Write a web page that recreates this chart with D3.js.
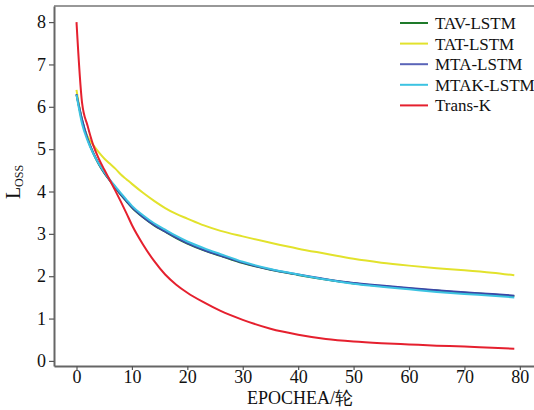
<!DOCTYPE html>
<html>
<head>
<meta charset="utf-8">
<script src="https://cdn.jsdelivr.net/npm/d3@7"></script>
<style>
  body { margin: 0; background: #fff; }
  svg { display: block; }
  svg text { font-family: "Liberation Serif", "Times New Roman", serif; }
</style>
</head>
<body>
<div id="chart"></div>
<script>
// epochs sampled along the curves
const epochs = [0, 1, 2, 3, 4, 5, 6, 7, 8, 9, 10, 12, 14, 16, 18, 20, 23, 26, 30, 35, 40, 45, 50, 55, 60, 65, 70, 75, 79];

const tavLstm  = [6.29, 5.69, 5.24, 4.91, 4.65, 4.44, 4.26, 4.09, 3.92, 3.77, 3.62, 3.39, 3.20, 3.05, 2.90, 2.77, 2.61, 2.48, 2.31, 2.15, 2.03, 1.92, 1.83, 1.77, 1.71, 1.66, 1.61, 1.57, 1.53];
const tatLstm  = [6.40, 5.65, 5.30, 5.10, 4.93, 4.78, 4.66, 4.54, 4.40, 4.29, 4.18, 3.97, 3.78, 3.61, 3.47, 3.36, 3.20, 3.07, 2.94, 2.79, 2.65, 2.53, 2.41, 2.32, 2.25, 2.19, 2.14, 2.08, 2.02];
const mtaLstm  = [6.30, 5.70, 5.25, 4.92, 4.66, 4.45, 4.27, 4.10, 3.93, 3.78, 3.63, 3.40, 3.21, 3.06, 2.91, 2.78, 2.62, 2.49, 2.32, 2.16, 2.04, 1.93, 1.84, 1.78, 1.72, 1.67, 1.62, 1.58, 1.54];
const mtakLstm = [6.28, 5.60, 5.20, 4.90, 4.66, 4.46, 4.28, 4.12, 3.96, 3.81, 3.66, 3.44, 3.25, 3.10, 2.95, 2.82, 2.66, 2.52, 2.34, 2.17, 2.04, 1.92, 1.82, 1.75, 1.69, 1.63, 1.58, 1.54, 1.50];
const transK   = [8.00, 6.10, 5.55, 5.10, 4.78, 4.52, 4.27, 4.02, 3.76, 3.49, 3.21, 2.75, 2.36, 2.04, 1.80, 1.61, 1.38, 1.18, 0.97, 0.76, 0.62, 0.52, 0.46, 0.42, 0.39, 0.36, 0.34, 0.31, 0.29];

const seriesNames = ["TAV-LSTM", "TAT-LSTM", "MTA-LSTM", "MTAK-LSTM", "Trans-K"];
const seriesColors = ["#1e7a2a", "#e2e22c", "#3b46a8", "#3cc3e2", "#e5202e"];
const seriesValues = [tavLstm, tatLstm, mtaLstm, mtakLstm, transK];

const xTicks = [0, 10, 20, 30, 40, 50, 60, 70, 80];
const yTicks = [0, 1, 2, 3, 4, 5, 6, 7, 8];

const width = 534, height = 410;
const plot = {left: 54, top: 6, right: 542, bottom: 366};

const svg = d3.select("#chart").append("svg")
    .attr("width", width)
    .attr("height", height);

const x = d3.scaleLinear().domain([-4.06, 84.0]).range([plot.left, plot.right]);
const y = d3.scaleLinear().domain([-0.12, 8.38]).range([plot.bottom, plot.top]);

// top border
svg.append("line")
    .attr("x1", plot.left).attr("x2", plot.right)
    .attr("y1", plot.top).attr("y2", plot.top)
    .attr("stroke", "#333").attr("stroke-width", 1.2);

const xAxis = svg.append("g")
    .attr("transform", `translate(0,${plot.bottom})`)
    .call(d3.axisBottom(x).tickValues(xTicks).tickSize(4).tickSizeOuter(0));

const yAxis = svg.append("g")
    .attr("transform", `translate(${plot.left},0)`)
    .call(d3.axisLeft(y).tickValues(yTicks).tickSize(5).tickSizeOuter(0));

[xAxis, yAxis].forEach(a => {
  a.attr("font-family", null).attr("font-size", null);
  a.select(".domain").attr("stroke", "#666").attr("stroke-width", 2);
  a.selectAll(".tick line").attr("stroke", "#555").attr("stroke-width", 1.2);
  a.selectAll(".tick text")
    .style("font-size", "18px")
    .attr("fill", "#111");
});
xAxis.selectAll(".tick text").attr("dy", "0.62em").attr("y", 6);
yAxis.selectAll(".tick text").attr("x", -8);

// curves
const line = d3.line()
    .x((d, i) => x(epochs[i]))
    .y(d => y(d))
    .curve(d3.curveMonotoneX);

svg.append("g")
    .attr("fill", "none")
    .attr("stroke-width", 2)
  .selectAll("path")
  .data(seriesValues)
  .join("path")
    .attr("stroke", (d, i) => seriesColors[i])
    .attr("d", line);

// legend
const legend = svg.append("g")
  .selectAll("g")
  .data(seriesNames)
  .join("g")
    .attr("transform", (d, i) => `translate(400,${23 + i * 20.6})`);

legend.append("line")
    .attr("x1", 0).attr("x2", 28)
    .attr("stroke", (d, i) => i == 2 ? "#5a64b8" : seriesColors[i])
    .attr("stroke-width", 2);

legend.append("text")
    .attr("x", 35)
    .attr("dy", "0.35em")
    .style("font-size", "17px")
    .attr("fill", "#111")
    .text(d => d);

// axis titles
svg.append("text")
    .attr("x", 300).attr("y", 404)
    .attr("text-anchor", "middle")
    .style("font-size", "18px")
    .attr("fill", "#111")
    .text("EPOCHEA/轮");

const yTitle = svg.append("text")
    .attr("transform", "translate(20,182) rotate(-90)")
    .attr("text-anchor", "middle")
    .style("font-size", "20px")
    .attr("fill", "#111");
yTitle.append("tspan").text("L");
yTitle.append("tspan").style("font-size", "12px").attr("dy", 3).text("OSS");
</script>
</body>
</html>
